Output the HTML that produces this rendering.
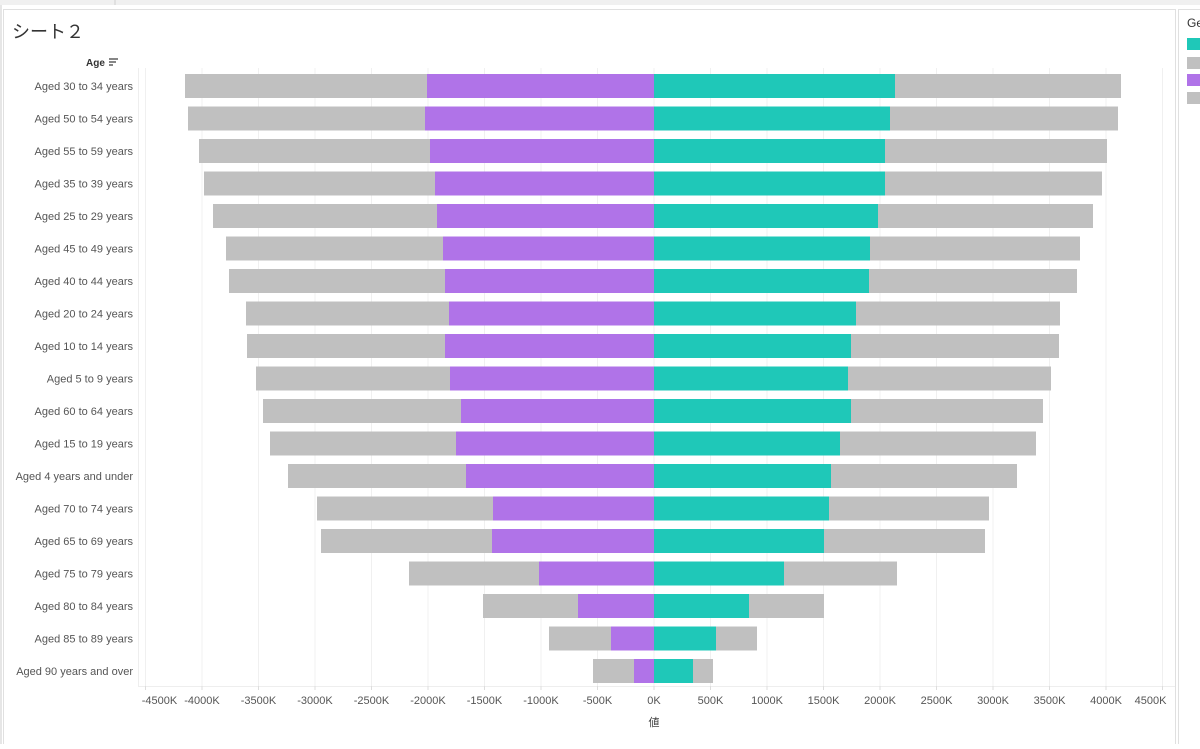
<!DOCTYPE html>
<html><head><meta charset="utf-8"><style>
body{margin:0;background:#fff;width:1200px;height:744px;overflow:hidden;font-family:"Liberation Sans","Noto Sans CJK JP",sans-serif}
</style></head><body>
<svg width="1200" height="744" xmlns="http://www.w3.org/2000/svg" font-family="Liberation Sans, Noto Sans CJK JP, sans-serif">
<rect x="0" y="0" width="1200" height="744" fill="#fff"/>
<rect x="0" y="0" width="1200" height="5" fill="#f0f0f0"/>
<line x1="115" y1="0" x2="115" y2="5" stroke="#d0d0d0"/>
<rect x="0" y="5" width="2" height="739" fill="#e6e6e6"/>
<rect x="3.5" y="9.5" width="1172" height="740" fill="none" stroke="#e0e0e0"/>
<rect x="1178.5" y="9.5" width="30" height="740" fill="none" stroke="#e0e0e0"/>
<text x="1187" y="27" font-size="12" fill="#333">Ge</text>
<rect x="1187" y="38" width="13" height="12" fill="#1fc8b8"/>
<rect x="1187" y="57" width="13" height="12" fill="#c0c0c0"/>
<rect x="1187" y="74" width="13" height="12" fill="#b073e8"/>
<rect x="1187" y="92" width="13" height="12" fill="#c0c0c0"/>
<text x="12" y="38" font-size="18" fill="#333">シート２</text>
<text x="86" y="66" font-size="10" font-weight="bold" fill="#333">Age</text>
<g stroke="#444" stroke-width="1.3"><line x1="109" y1="59" x2="118" y2="59"/><line x1="109" y1="62" x2="116" y2="62"/><line x1="109" y1="65" x2="113" y2="65"/></g>
<line x1="138.5" y1="68" x2="138.5" y2="686" stroke="#eee"/>
<line x1="138" y1="686.5" x2="1175" y2="686.5" stroke="#eee"/>
<g id="grid" stroke="#f0f0f0"></g>
<g id="bars"></g>
<g id="labels" font-size="11" fill="#555" text-anchor="end"></g>
<g id="ticks" font-size="11" fill="#555" text-anchor="middle"></g>
<text x="654" y="726" font-size="11" fill="#444" text-anchor="middle">値</text>
<script>
var ns="http://www.w3.org/2000/svg";
function el(p,t,a,txt){var e=document.createElementNS(ns,t);for(var k in a)e.setAttribute(k,a[k]);if(txt)e.textContent=txt;document.getElementById(p).appendChild(e);}
for(var i=-9;i<=9;i++){var x=654+i*56.5;el("grid","line",{x1:x,y1:68,x2:x,y2:686});
el("grid","line",{x1:x,y1:686,x2:x,y2:690,stroke:"#ddd"});
var lab=(i*500)+"K";var tx=x;if(i==-9)tx=x+14;if(i==9)tx=x-12;el("ticks","text",{x:tx,y:704},lab);}
var d=[["Aged 30 to 34 years",185,427,895,1121],["Aged 50 to 54 years",188,425,890,1118],["Aged 55 to 59 years",199,430,885,1107],["Aged 35 to 39 years",204,435,885,1102],["Aged 25 to 29 years",213,437,878,1093],["Aged 45 to 49 years",226,443,870,1080],["Aged 40 to 44 years",229,445,869,1077],["Aged 20 to 24 years",246,449,856,1060],["Aged 10 to 14 years",247,445,851,1059],["Aged 5 to 9 years",256,450,848,1051],["Aged 60 to 64 years",263,461,851,1043],["Aged 15 to 19 years",270,456,840,1036],["Aged 4 years and under",288,466,831,1017],["Aged 70 to 74 years",317,493,829,989],["Aged 65 to 69 years",321,492,824,985],["Aged 75 to 79 years",409,539,784,897],["Aged 80 to 84 years",483,578,749,824],["Aged 85 to 89 years",549,611,716,757],["Aged 90 years and over",593,634,693,713]];
d.forEach(function(r,i){var c=86+i*32.5,y=c-12,h=24;
el("bars","rect",{x:r[1],y:y,width:r[2]-r[1],height:h,fill:"#c0c0c0"});
el("bars","rect",{x:r[2],y:y,width:654-r[2],height:h,fill:"#b073e8"});
el("bars","rect",{x:654,y:y,width:r[3]-654,height:h,fill:"#1fc8b8"});
el("bars","rect",{x:r[3],y:y,width:r[4]-r[3],height:h,fill:"#c0c0c0"});
el("labels","text",{x:133,y:c+4},r[0]);});
</script>
</svg>
</body></html>
